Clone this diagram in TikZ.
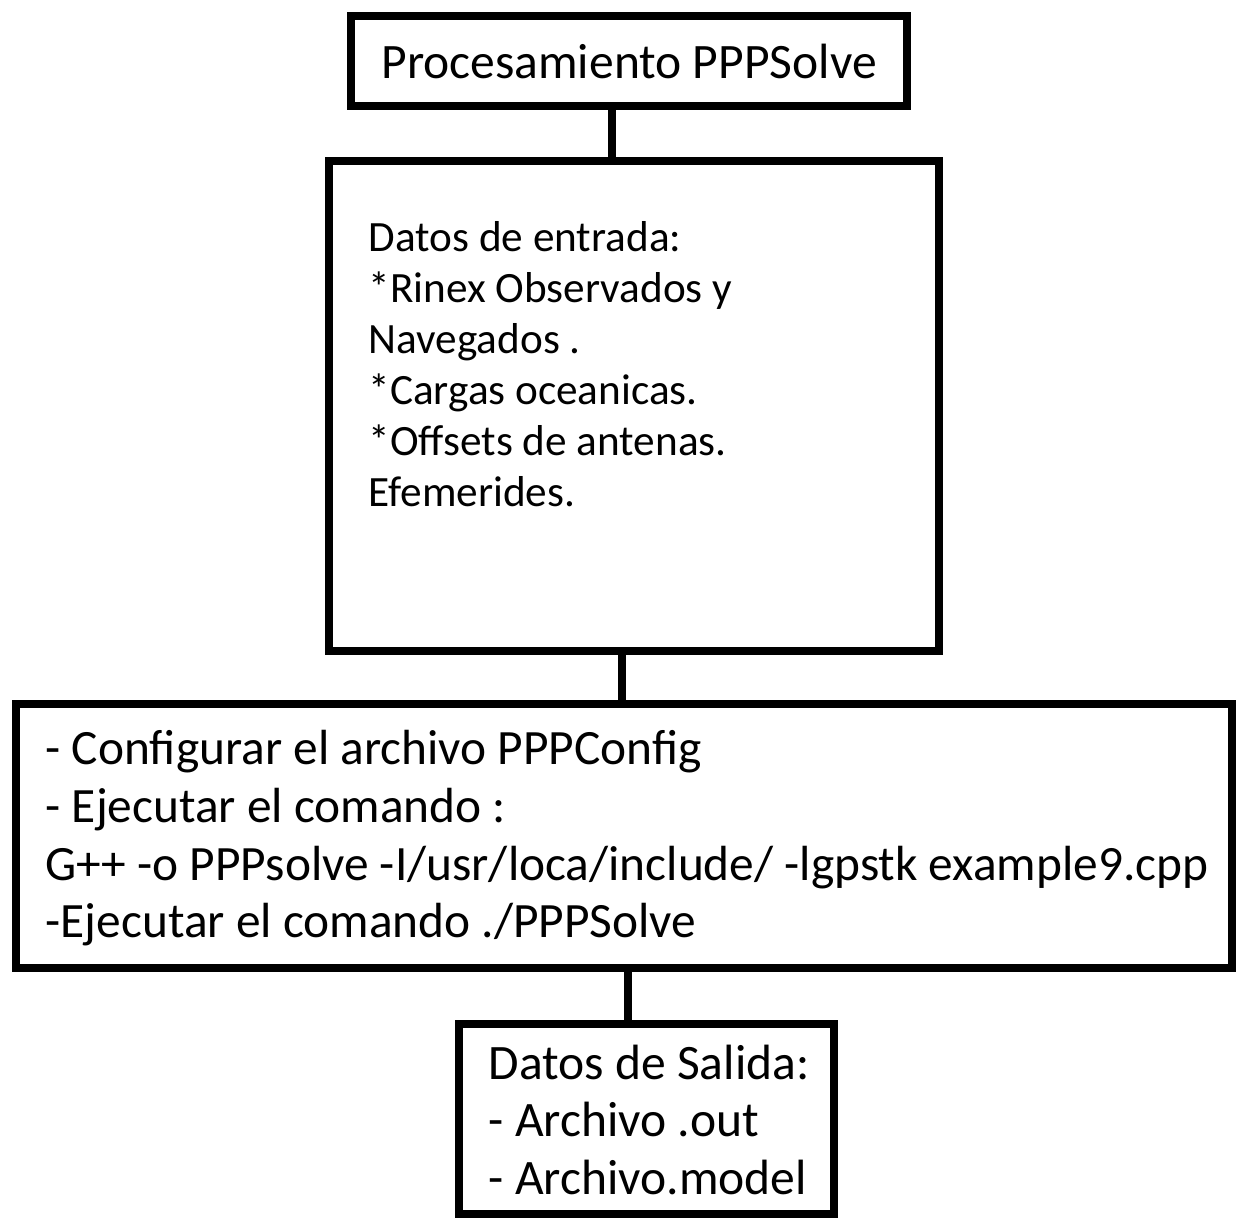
\documentclass[tikz,border=0pt]{standalone}
\usepackage{fontspec}
\setmainfont{Carlito}
\usetikzlibrary{positioning}

\begin{document}
\begin{tikzpicture}[caja/.style={draw=black, line width=0.08cm, inner sep=0pt},
    texto/.style={align=left, inner sep=0pt, anchor=north west},
    linea/.style={line width=0.08cm}]
      \useasboundingbox (0, 0) rectangle (12.39, 12.18);

      \node[caja, minimum width=5.56cm, minimum height=0.9cm, font=\fontsize{14.1}{16.4}\selectfont] (proc) at (6.29, 11.57) {Procesamiento PPPSolve};

      \node[caja, minimum width=6.1cm, minimum height=4.9cm] (entrada) at (6.34, 8.12) {};
      \node[texto, font=\fontsize{12.3}{14.5}\selectfont] (tentrada) at (3.68, 9.97) {Datos de entrada:\\*Rinex Observados y\\Navegados .\\*Cargas oceanicas.\\*Offsets de antenas.\\Efemerides.};

      \node[caja, minimum width=12.16cm, minimum height=2.64cm] (comando) at (6.24, 3.82) {};
      \node[texto, font=\fontsize{14.05}{16.4}\selectfont] (tcomando) at (0.45, 4.88) {- Configurar el archivo PPPConfig\\- Ejecutar el comando :\\G++ -o PPPsolve -I/usr/loca/include/ -lgpstk example9.cpp\\-Ejecutar el comando ./PPPSolve};

      \node[caja, minimum width=3.75cm, minimum height=1.9cm] (salida) at (6.465, 0.99) {};
      \node[texto, font=\fontsize{14.1}{16.4}\selectfont] (tsalida) at (4.88, 1.74) {Datos de Salida:\\- Archivo .out\\- Archivo.model};

      \draw[linea] ([xshift=-1.7mm]proc.south) -- ([xshift=-1.7mm]proc.south |- entrada.north);
      \draw[linea] ([xshift=-1.2mm]entrada.south) -- ([xshift=-1.2mm]entrada.south |- comando.north);
      \draw[linea] ([xshift=0.4mm]comando.south) -- ([xshift=0.4mm]comando.south |- salida.north);
    \end{tikzpicture}
\end{document}
